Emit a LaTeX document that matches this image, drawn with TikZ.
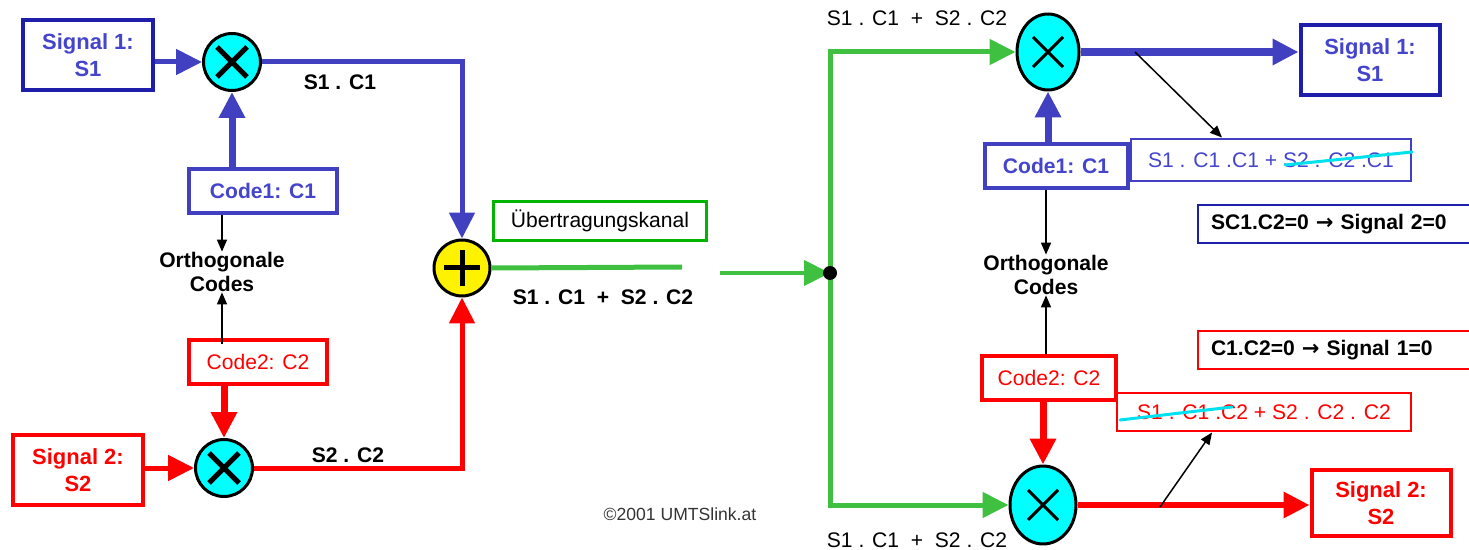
\documentclass[tikz,border=0pt]{standalone}
\usepackage{fontspec}
\setmainfont{Liberation Sans}
\newfontfamily\arrowfont{DejaVu Sans}
\usetikzlibrary{arrows.meta,shapes.geometric,positioning}

\definecolor{sigblue}{RGB}{30,30,170}
\definecolor{codeblue}{RGB}{64,64,192}
\definecolor{txtblue}{RGB}{68,68,204}
\definecolor{sigred}{RGB}{255,0,0}
\definecolor{chgreen}{RGB}{64,192,64}
\definecolor{boxgreen}{RGB}{0,180,0}
\definecolor{multcyan}{RGB}{0,255,255}
\definecolor{strikecyan}{RGB}{0,225,240}

\newcommand{\implarrow}{{\arrowfont\bfseries →}}

\tikzset{
  box/.style={draw, rectangle, align=center, inner sep=0pt},
  sigbox/.style={box, line width=0.08cm, minimum width=2.6cm, minimum height=1.42cm,
    font=\fontsize{12.5}{15}\selectfont\bfseries},
  codebox/.style={box, line width=0.08cm, minimum height=0.88cm, font=\fontsize{12}{14}\selectfont},
  eqbox/.style={box, line width=0.04cm, font=\fontsize{12}{14}\selectfont},
  rulebox/.style={box, line width=0.04cm, anchor=west, minimum height=0.76cm, text width=5.08cm,
    inner xsep=0.26cm, align=left, font=\fontsize{12}{14}\selectfont\bfseries},
  lbl/.style={inner sep=0pt, font=\fontsize{12}{14}\selectfont\bfseries},
  plainlbl/.style={inner sep=0pt, font=\fontsize{12}{14}\selectfont},
  cross/.style={path picture={
    \draw[line width=#1] ([shift={(-0.3cm,-0.3cm)}]path picture bounding box.center)
      -- ([shift={(0.3cm,0.3cm)}]path picture bounding box.center)
      ([shift={(-0.3cm,0.3cm)}]path picture bounding box.center)
      -- ([shift={(0.3cm,-0.3cm)}]path picture bounding box.center);}},
  mult/.style={circle, draw, fill=multcyan, line width=0.06cm, minimum size=1.14cm, inner sep=0pt, cross=0.1cm},
  multR/.style={ellipse, draw, fill=multcyan, line width=0.06cm, minimum width=1.24cm,
    minimum height=1.52cm, inner sep=0pt, cross=0.06cm},
  adder/.style={circle, draw, fill=yellow, line width=0.06cm, minimum size=1.12cm, inner sep=0pt,
    path picture={
    \draw[line width=0.1cm] ([xshift=-0.36cm]path picture bounding box.center)
      -- ([xshift=0.36cm]path picture bounding box.center)
      ([yshift=-0.36cm]path picture bounding box.center)
      -- ([yshift=0.36cm]path picture bounding box.center);}},
  bigtip/.style={-{Triangle[length=0.52cm,width=0.5cm]}},
  bluearr/.style={draw=codeblue, line width=0.1cm, bigtip},
  redarr/.style={draw=sigred, line width=0.1cm, bigtip},
  greenarr/.style={draw=chgreen, line width=0.1cm, bigtip},
  thinarr/.style={draw=black, line width=0.03cm, -{Triangle[length=0.24cm,width=0.2cm]}},
  strikeline/.style={draw=strikecyan, line width=0.06cm, line cap=round}
}

\begin{document}
\begin{tikzpicture}[x=0.02cm,y=-0.02cm]
  \useasboundingbox (0,0) rectangle (1469,550);

  % sender
  \node[sigbox, draw=sigblue, text=txtblue] (sig1L) at (88,55) {Signal 1:\\S1};
  \node[sigbox, draw=sigred, text=sigred, minimum width=2.62cm, minimum height=1.4cm] (sig2L) at (78,470) {Signal 2:\\S2};
  \node[codebox, draw=codeblue, text=txtblue, font=\fontsize{12}{14}\selectfont\bfseries, minimum width=2.96cm] (code1L) at (263,191) {Code1: C1};
  \node[codebox, draw=sigred, text=sigred, minimum width=2.78cm, minimum height=0.9cm] (code2L) at (258,362) {Code2: C2};
  \node[lbl, align=center] (codesL) at (222,272) {Orthogonale\\Codes};
  \node[mult] (m1) at (232,62) {};
  \node[mult] (m2) at (224,468) {};
  \node[adder] (plus) at (462,268) {};
  \node[lbl] (s1c1) at (340,82) {S1 . C1};
  \node[lbl] (s2c2) at (348,455) {S2 . C2};

  % channel
  \node[box, draw=boxgreen, line width=0.06cm, minimum width=4.28cm, minimum height=0.8cm,
    font=\fontsize{12}{14}\selectfont] (kanal) at (600,221) {Übertragungskanal};
  \node[lbl] (sum) at (603,297) {S1 . C1 \ + \ S2 . C2};
  \coordinate (k1) at (682,267);
  \coordinate (k2) at (720,273);
  \coordinate (split) at (830,273);

  % receiver
  \node[multR] (m3) at (1048,52) {};
  \node[multR, minimum width=1.32cm, minimum height=1.56cm] (m4) at (1043,505) {};
  \node[sigbox, draw=sigblue, text=txtblue, minimum width=2.78cm, minimum height=1.42cm] (sig1R) at (1370,60) {Signal 1:\\S1};
  \node[sigbox, draw=sigred, text=sigred, minimum width=2.78cm, minimum height=1.32cm] (sig2R) at (1381,503) {Signal 2:\\S2};
  \node[eqbox, draw=codeblue, text=txtblue, minimum width=5.6cm, minimum height=0.86cm] (c1c1) at (1271,160) {S1 . C1 .C1 + S2 . C2 .C1};
  \node[eqbox, draw=sigred, text=sigred, minimum width=5.88cm, minimum height=0.78cm] (c1c2) at (1264,412) {S1 . C1 .C2 + S2 . C2 . C2};
  \node[codebox, draw=codeblue, fill=white, text=txtblue, font=\fontsize{12}{14}\selectfont\bfseries, minimum width=2.86cm] (code1R) at (1056,166) {Code1: C1};
  \node[codebox, draw=sigred, fill=white, text=sigred, minimum width=2.68cm] (code2R) at (1049,378) {Code2: C2};
  \node[lbl, align=center] (codesR) at (1046,275) {Orthogonale\\Codes};
  \node[rulebox, draw=sigblue] (rule2) at (1197,224) {SC1.C2=0 \implarrow{} Signal 2=0};
  \node[rulebox, draw=sigred] (rule1) at (1197,350) {C1.C2=0 \implarrow{} Signal 1=0};
  \node[plainlbl] (topsum) at (917,18) {S1 . C1 \ + \ S2 . C2};
  \node[plainlbl] (botsum) at (917,540) {S1 . C1 \ + \ S2 . C2};
  \node[inner sep=0pt, font=\fontsize{10}{12}\selectfont, text=black!80] (copy) at (680,514) {©2001 UMTSlink.at};
  \coordinate (t1) at (1135,52);
  \coordinate (t2) at (1160,507);

  % sender paths
  \draw[bluearr] (sig1L.east |- m1) -- (m1.west);
  \draw[bluearr, line width=0.14cm] (code1L.north -| m1) -- (m1.south);
  \draw[bluearr] (m1.east) -| (plus.north);
  \draw[redarr] (sig2L.east |- m2) -- (m2.west);
  \draw[redarr, line width=0.14cm] (code2L.south -| m2) -- (m2.north);
  \draw[redarr] (m2.east) -| (plus.south);
  \draw[thinarr] (code1L.south -| codesL) -- (codesL.north);
  \draw[thinarr] ([yshift=-0.12cm]code2L.north -| codesL) -- (codesL.south);

  % channel paths
  \draw[draw=chgreen, line width=0.1cm] (plus.east) -- (k1);
  \draw[greenarr, line width=0.08cm] (k2) -- (split);
  \draw[greenarr] (split) |- (m3.west);
  \draw[greenarr] (split) |- (m4.west);
  \node[circle, fill=black, minimum size=0.28cm, inner sep=0pt] (dot) at (split) {};

  % receiver paths
  \draw[bluearr, line width=0.16cm] (m3.east) -- (m3.east -| sig1R.west);
  \draw[bluearr, line width=0.14cm] (code1R.north -| m3) -- (m3.south);
  \draw[redarr, line width=0.12cm] (m4.east) -- (m4.east -| sig2R.west);
  \draw[redarr, line width=0.14cm] (code2R.south -| m4) -- (m4.north);
  \draw[thinarr] (code1R.south -| codesR) -- (codesR.north);
  \draw[thinarr] (code2R.north -| codesR) -- (codesR.south);
  \draw[thinarr] (t1) -- ([xshift=-0.98cm]c1c1.north);
  \draw[thinarr] (t2) -- ([xshift=-1.04cm]c1c2.south);

  % crossed-out terms
  \draw[strikeline] (1285,165) -- (1412,152);
  \draw[strikeline] (1120,420) -- (1232,407);
\end{tikzpicture}
\end{document}
